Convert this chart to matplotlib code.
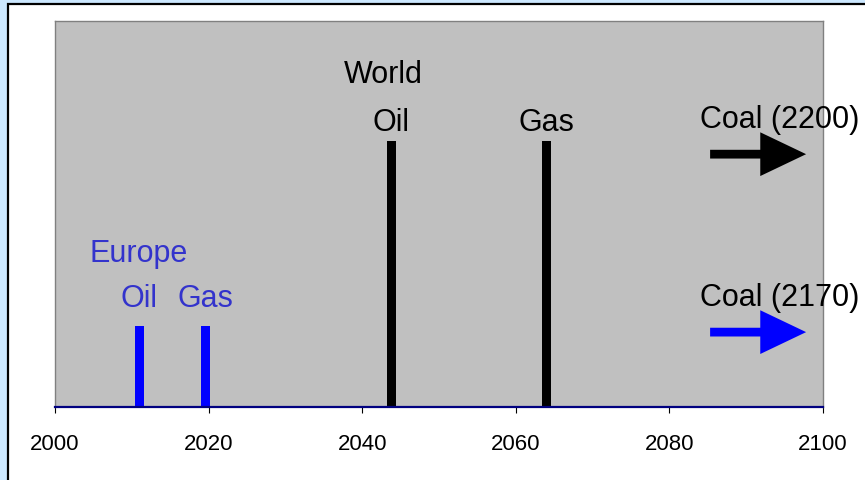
import matplotlib
matplotlib.use("Agg")
import matplotlib.pyplot as plt
from matplotlib.patches import Rectangle, FancyArrowPatch

plt.rcParams['font.family'] = ['Liberation Sans', 'DejaVu Sans']

# data
europe_fuels = ['Oil', 'Gas']
europe_years = [2011.0, 2019.6]
europe_height = 21

world_fuels = ['Oil', 'Gas']
world_years = [2043.8, 2064.0]
world_height = 69

coal_labels = ['Coal (2200)', 'Coal (2170)']
coal_levels = [65.5, 19.4]
coal_colors = ['black', 'blue']

xticks = [2000, 2020, 2040, 2060, 2080, 2100]

fig = plt.figure(figsize=(8.65, 4.81), dpi=100)
fig.patch.set_facecolor('#cce8ff')
W, H = 865.0, 481.0
frame = Rectangle((8 / W, -0.1), 1.2, 1.1 - 5 / H, transform=fig.transFigure,
                  facecolor='white', edgecolor='black', linewidth=1.6, zorder=0)
fig.add_artist(frame)

ax = fig.add_axes([55 / W, 1 - 408 / H, 768 / W, 386 / H])
ax.set_facecolor('#c0c0c0')
ax.set_xlim(2000, 2100)
ax.set_ylim(0, 100)

ax.bar(europe_years, [europe_height] * len(europe_years), width=1.1, color='blue')
ax.bar(world_years, [world_height] * len(world_years), width=1.1, color='black')

blue_txt = '#3333cc'
ax.text(sum(europe_years) / 2 - 4.4, 37.8, 'Europe', color=blue_txt, fontsize=22,
        ha='center', va='baseline')
for yr, name in zip(europe_years, europe_fuels):
    ax.text(yr, 26.2, name, color=blue_txt, fontsize=22, ha='center', va='baseline')

ax.text(world_years[0] - 1.0, 84.2, 'World', color='black', fontsize=22,
        ha='center', va='baseline')
for yr, name in zip(world_years, world_fuels):
    ax.text(yr, 71.8, name, color='black', fontsize=22, ha='center', va='baseline')

for lab, lvl, col in zip(coal_labels, coal_levels, coal_colors):
    ax.text(2084.0, lvl + 7.1, lab, color='black', fontsize=22, ha='left',
            va='baseline', clip_on=False)
    arr = FancyArrowPatch((2085.3, lvl), (2097.8, lvl),
                          arrowstyle='simple,head_width=31.5,head_length=33,tail_width=6.3',
                          mutation_scale=1, shrinkA=0, shrinkB=0,
                          color=col, linewidth=0)
    ax.add_patch(arr)

for side in ['left', 'top', 'right']:
    ax.spines[side].set_color('#808080')
    ax.spines[side].set_linewidth(1.0)
ax.spines['bottom'].set_color('#000080')
ax.spines['bottom'].set_linewidth(1.6)

ax.set_xticks(xticks)
ax.set_xticklabels([str(t) for t in xticks])
ax.set_yticks([])
ax.tick_params(axis='x', direction='out', length=4, width=0.8, color='black',
               labelsize=16, pad=15)

fig.savefig('out.png', dpi=100, facecolor=fig.get_facecolor())
